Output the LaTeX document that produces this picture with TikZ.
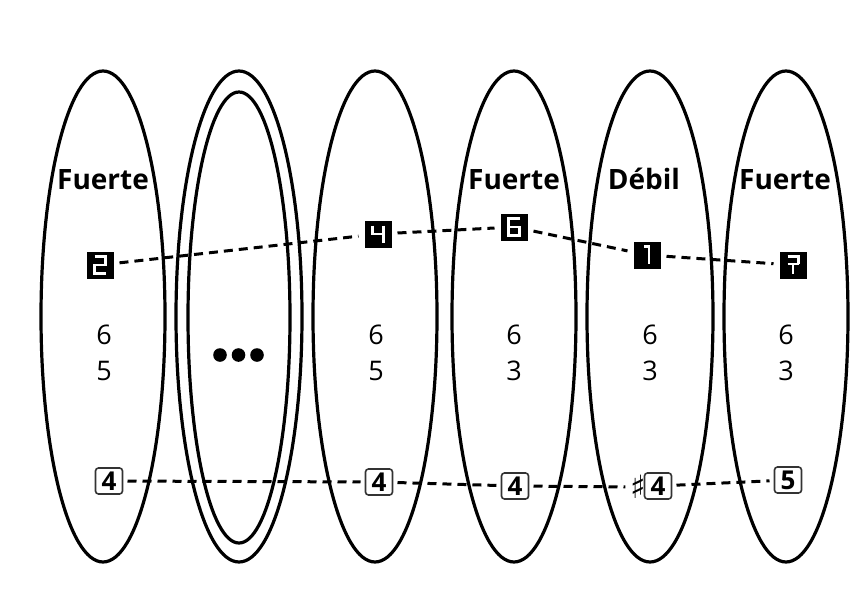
\documentclass[tikz,border=0pt]{standalone}
\usepackage{fontspec}
\setmainfont{Open Sans}
\newfontfamily\symfont{DejaVu Sans}
\usetikzlibrary{shapes.geometric}
\begin{document}
\begin{tikzpicture}[x=1pt,y=-1pt,
  oval/.style={draw,ellipse,line width=3.2pt,inner sep=0pt,minimum width=124pt,minimum height=491pt},
  strong/.style={font=\bfseries\fontsize{28}{32}\selectfont,inner sep=0pt,anchor=base},
  fig/.style={font=\fontsize{27}{30}\selectfont,inner sep=0pt},
  topbox/.style={fill=black,minimum size=27pt,inner sep=0pt,outer sep=6pt},
  seg/.style={draw=white,line width=2.5pt},
  botbox/.style={draw=black!80,line width=1.6pt,rounded corners=3pt,fill=white,minimum width=27pt,minimum height=26pt,inner sep=0pt,outer sep=5pt,font=\bfseries\fontsize{26}{28}\selectfont},
  sharpsign/.style={inner sep=0pt,outer sep=5pt,font=\symfont\fontsize{32}{34}\selectfont},
  link/.style={line width=3pt,dash pattern=on 9pt off 6pt}]
\useasboundingbox[fill=white] (0,0) rectangle (863,608);
% ellipses
\node[oval] (e1) at (103,316.5) {};
\node[oval,minimum width=126pt] (e2) at (239,316.5) {};
\node[oval,minimum width=102pt,minimum height=451pt] (e2i) at (239,317.5) {};
\node[oval] (e3) at (375,316.5) {};
\node[oval] (e4) at (514,316.5) {};
\node[oval,minimum width=126pt] (e5) at (650,316.5) {};
\node[oval] (e6) at (786,316.5) {};
% labels
\node[strong] (l1) at (103,189) {Fuerte};
\node[strong] (l4) at (514,189) {Fuerte};
\node[strong] (l5) at (644,189) {Débil};
\node[strong] (l6) at (785,189) {Fuerte};
% figures
\node[fig] (u1) at (104,335) {6};
\node[fig] (d1) at (104,371) {5};
\node[fig] (u3) at (376,335) {6};
\node[fig] (d3) at (376,371) {5};
\node[fig] (u4) at (514,335) {6};
\node[fig] (d4) at (514,371) {3};
\node[fig] (u5) at (650,335) {6};
\node[fig] (d5) at (650,371) {3};
\node[fig] (u6) at (786,335) {6};
\node[fig] (d6) at (786,371) {3};
% dots
\fill (220,355) circle[radius=6.8];
\fill (238.5,355) circle[radius=6.8];
\fill (257,355) circle[radius=6.8];
% top markers
\node[topbox] (t1) at (100,265) {};
\node[topbox] (t3) at (378,234) {};
\node[topbox] (t4) at (514,227) {};
\node[topbox] (t5) at (647,255) {};
\node[topbox] (t6) at (793,265) {};
\draw[seg,shift={(t1.center)}] (-5.5,-8.5) -- (5.5,-8.5) -- (5.5,0) -- (-5.5,0) -- (-5.5,8.5) -- (5.5,8.5);
\draw[seg,shift={(t3.center)}] (-5.5,-8.5) -- (-5.5,0) -- (5.5,0) (5.5,-8.5) -- (5.5,8.5);
\draw[seg,shift={(t4.center)}] (5.5,-8.5) -- (-5.5,-8.5) -- (-5.5,8.5) -- (5.5,8.5) -- (5.5,0) -- (-5.5,0);
\draw[seg,shift={(t5.center)}] (-3,-8.5) -- (2,-8.5) -- (2,8.5);
\draw[seg,shift={(t6.center)}] (-5.5,-8.5) -- (5.5,-8.5) -- (5.5,-1) (-5.5,-1) -- (5.5,-1) (0,-1) -- (0,8.5);
% bottom markers
\node[botbox] (b1) at (109,481) {4};
\node[botbox] (b3) at (379,482) {4};
\node[botbox] (b4) at (515,486) {4};
\node[botbox] (b5) at (658,486) {4};
\node[sharpsign] (sh) at (638,487) {♯};
\node[botbox] (b6) at (788,480) {5};
% connectors
\draw[link] (t1) -- (t3);
\draw[link] (t3) -- (t4);
\draw[link] (t4) -- (t5);
\draw[link] (t5) -- (t6);
\draw[link] (b1) -- (b3);
\draw[link] (b3) -- (b4);
\draw[link] (b4) -- (sh);
\draw[link] (b5) -- (b6);
\end{tikzpicture}
\end{document}
